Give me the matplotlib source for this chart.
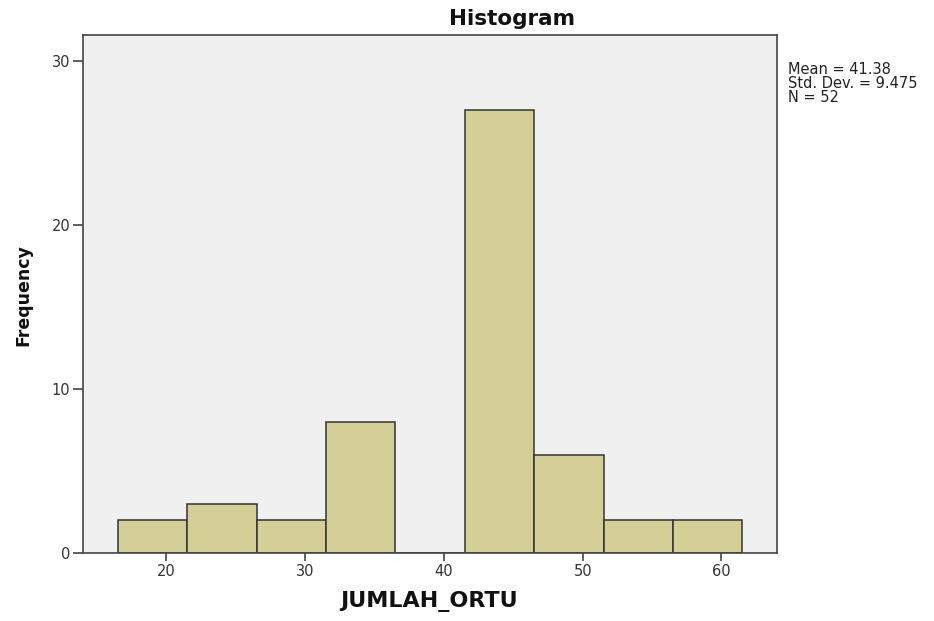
import numpy as np
import matplotlib
matplotlib.use("Agg")
import matplotlib.pyplot as plt
from matplotlib import font_manager

# histogram of JUMLAH_ORTU (SPSS style)
bin_edges = [16.5, 21.5, 26.5, 31.5, 36.5, 41.5, 46.5, 51.5, 56.5, 61.5]
counts = [2, 3, 2, 8, 0, 27, 6, 2, 2]
x_ticks = [20, 30, 40, 50, 60]
y_ticks = [0, 10, 20, 30]
stats_text = "Mean = 41.38\nStd. Dev. = 9.475\nN = 52"

BAR_COLOR = "#d3cf97"
BG_COLOR = "#f0f0f0"
EDGE_COLOR = "#333333"

plt.rcParams["font.family"] = ["DejaVu Sans"]

names = {f.name for f in font_manager.fontManager.ttflist}
if "Liberation Sans Narrow" in names:
    ylab_font = dict(family=["Liberation Sans Narrow"], fontsize=17)
else:
    ylab_font = dict(family=["DejaVu Sans"], fontsize=12.5)

fig = plt.figure(figsize=(9.34, 6.21), dpi=100)
ax = fig.add_axes([83 / 934, 1 - 553 / 621, (777 - 83) / 934, (553 - 35) / 621])
ax.set_facecolor(BG_COLOR)

lefts = bin_edges[:-1]
widths = np.diff(bin_edges)
ax.bar(lefts, counts, width=widths, align="edge", color=BAR_COLOR,
       edgecolor=EDGE_COLOR, linewidth=1.1, zorder=2)

ax.set_xlim(14, 64)
ax.set_ylim(0, 31.6)
ax.set_xticks(x_ticks)
ax.set_yticks(y_ticks)

for s in ax.spines.values():
    s.set_color("#444444")
    s.set_linewidth(1.2)

ax.tick_params(axis="y", direction="out", length=7.5, width=1.2, pad=1.5,
               colors="#444444", labelcolor="#333333", labelsize=10.5)
ax.tick_params(axis="x", direction="out", length=5.5, width=1.2, pad=2.5,
               colors="#444444", labelcolor="#333333", labelsize=10.5)
ax.tick_params(top=False, right=False)

fig.text(512 / 934, 1 - 19 / 621, "Histogram", ha="center", va="center",
         fontsize=15.5, fontweight="bold", color="#111111")
fig.text(429 / 934, 1 - 602 / 621, "JUMLAH_ORTU", ha="center", va="center",
         fontsize=16, fontweight="bold", color="#111111")
fig.text(23 / 934, 1 - 295 / 621, "Frequency", ha="center", va="center",
         rotation=90, fontweight="bold", color="#111111", **ylab_font)
fig.text(788 / 934, 1 - 62 / 621, stats_text, ha="left", va="top",
         fontsize=10.5, linespacing=0.9, color="#222222")

fig.savefig("out.png", dpi=100, facecolor="white")
